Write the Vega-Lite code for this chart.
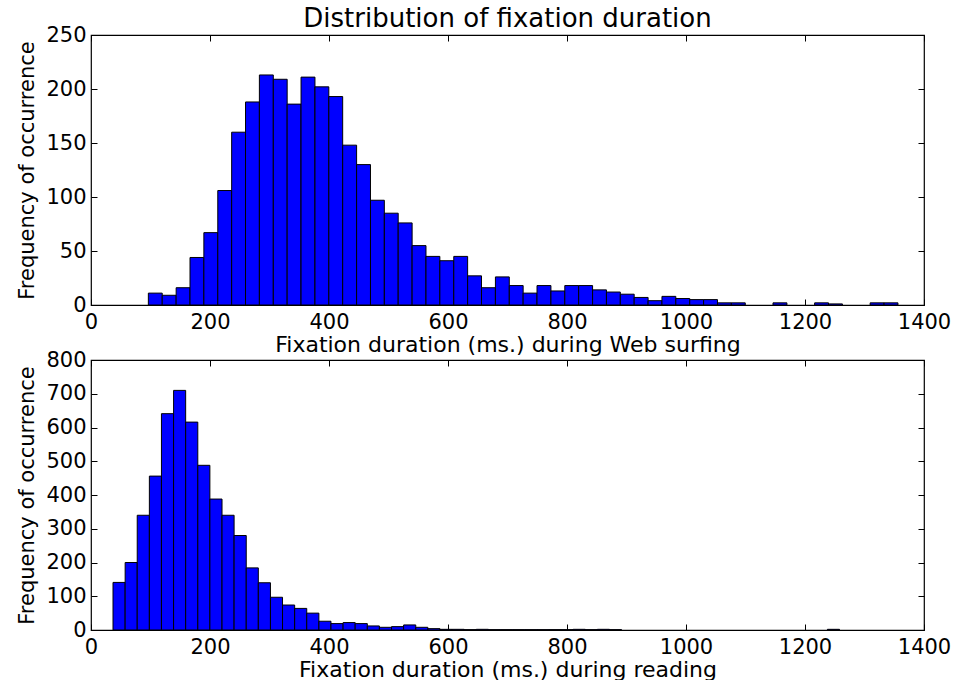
{
  "$schema": "https://vega.github.io/schema/vega-lite/v6.json",
  "background": "white",
  "padding": {"left": 16, "top": 5, "right": 0, "bottom": 0},
  "bounds": "flush",
  "spacing": 55,
  "config": {
    "view": {"stroke": "black", "strokeWidth": 1.2},
    "axis": {
      "labelFont": "DejaVu Sans", "labelFontSize": 21, "labelColor": "black", "labelPadding": 11,
      "titleFont": "DejaVu Sans", "titleFontSize": 21, "titleFontWeight": "normal", "titleColor": "black",
      "domain": false, "grid": false, "tickColor": "black", "tickSize": -6, "tickWidth": 1,
      "labelFlush": false, "labelOverlap": false, "format": "d"
    },
    "axisLeft": {"titlePadding": 8},
    "axisBottom": {"titlePadding": 2, "labelPadding": 12, "titleFontSize": 22}
  },
  "datasets": {
    "web": [
      {"start": 96.4, "end": 119.7, "count": 11},
      {"start": 119.7, "end": 143.1, "count": 9},
      {"start": 143.1, "end": 166.4, "count": 16},
      {"start": 166.4, "end": 189.7, "count": 44},
      {"start": 189.7, "end": 213.1, "count": 67},
      {"start": 213.1, "end": 236.4, "count": 106},
      {"start": 236.4, "end": 259.7, "count": 160},
      {"start": 259.7, "end": 283.0, "count": 188},
      {"start": 283.0, "end": 306.4, "count": 213},
      {"start": 306.4, "end": 329.7, "count": 209},
      {"start": 329.7, "end": 353.0, "count": 186},
      {"start": 353.0, "end": 376.4, "count": 211},
      {"start": 376.4, "end": 399.7, "count": 202},
      {"start": 399.7, "end": 423.0, "count": 193},
      {"start": 423.0, "end": 446.4, "count": 148},
      {"start": 446.4, "end": 469.7, "count": 130},
      {"start": 469.7, "end": 493.0, "count": 97},
      {"start": 493.0, "end": 516.3, "count": 85},
      {"start": 516.3, "end": 539.7, "count": 76},
      {"start": 539.7, "end": 563.0, "count": 55},
      {"start": 563.0, "end": 586.3, "count": 45},
      {"start": 586.3, "end": 609.7, "count": 41},
      {"start": 609.7, "end": 633.0, "count": 45},
      {"start": 633.0, "end": 656.3, "count": 27},
      {"start": 656.3, "end": 679.7, "count": 16},
      {"start": 679.7, "end": 703.0, "count": 26},
      {"start": 703.0, "end": 726.3, "count": 18},
      {"start": 726.3, "end": 749.6, "count": 11},
      {"start": 749.6, "end": 773.0, "count": 18},
      {"start": 773.0, "end": 796.3, "count": 13},
      {"start": 796.3, "end": 819.6, "count": 18},
      {"start": 819.6, "end": 843.0, "count": 18},
      {"start": 843.0, "end": 866.3, "count": 14},
      {"start": 866.3, "end": 889.6, "count": 12},
      {"start": 889.6, "end": 912.9, "count": 10},
      {"start": 912.9, "end": 936.3, "count": 7},
      {"start": 936.3, "end": 959.6, "count": 4},
      {"start": 959.6, "end": 982.9, "count": 8},
      {"start": 982.9, "end": 1006.3, "count": 6},
      {"start": 1006.3, "end": 1029.6, "count": 5},
      {"start": 1029.6, "end": 1052.9, "count": 5},
      {"start": 1052.9, "end": 1076.2, "count": 2},
      {"start": 1076.2, "end": 1099.6, "count": 2},
      {"start": 1146.2, "end": 1169.6, "count": 2},
      {"start": 1216.2, "end": 1239.5, "count": 2},
      {"start": 1239.5, "end": 1262.9, "count": 1},
      {"start": 1309.5, "end": 1332.9, "count": 2},
      {"start": 1332.9, "end": 1356.2, "count": 2}
    ],
    "reading": [
      {"start": 37.0, "end": 57.4, "count": 141},
      {"start": 57.4, "end": 77.7, "count": 200},
      {"start": 77.7, "end": 98.1, "count": 340},
      {"start": 98.1, "end": 118.4, "count": 456},
      {"start": 118.4, "end": 138.8, "count": 641},
      {"start": 138.8, "end": 159.1, "count": 710},
      {"start": 159.1, "end": 179.5, "count": 616},
      {"start": 179.5, "end": 199.8, "count": 488},
      {"start": 199.8, "end": 220.2, "count": 388},
      {"start": 220.2, "end": 240.5, "count": 340},
      {"start": 240.5, "end": 260.9, "count": 280},
      {"start": 260.9, "end": 281.2, "count": 184},
      {"start": 281.2, "end": 301.6, "count": 140},
      {"start": 301.6, "end": 321.9, "count": 97},
      {"start": 321.9, "end": 342.3, "count": 74},
      {"start": 342.3, "end": 362.6, "count": 64},
      {"start": 362.6, "end": 383.0, "count": 50},
      {"start": 383.0, "end": 403.3, "count": 26},
      {"start": 403.3, "end": 423.7, "count": 19},
      {"start": 423.7, "end": 444.0, "count": 22},
      {"start": 444.0, "end": 464.4, "count": 19},
      {"start": 464.4, "end": 484.7, "count": 12},
      {"start": 484.7, "end": 505.1, "count": 8},
      {"start": 505.1, "end": 525.4, "count": 10},
      {"start": 525.4, "end": 545.8, "count": 15},
      {"start": 545.8, "end": 566.1, "count": 8},
      {"start": 566.1, "end": 586.5, "count": 4},
      {"start": 586.5, "end": 606.8, "count": 2},
      {"start": 606.8, "end": 627.2, "count": 2},
      {"start": 627.2, "end": 647.5, "count": 1},
      {"start": 647.5, "end": 667.9, "count": 2},
      {"start": 667.9, "end": 688.2, "count": 1},
      {"start": 688.2, "end": 708.6, "count": 1},
      {"start": 708.6, "end": 728.9, "count": 1},
      {"start": 728.9, "end": 749.3, "count": 1},
      {"start": 749.3, "end": 769.6, "count": 1},
      {"start": 769.6, "end": 790.0, "count": 1},
      {"start": 790.0, "end": 810.3, "count": 1},
      {"start": 810.3, "end": 830.7, "count": 2},
      {"start": 830.7, "end": 851.0, "count": 1},
      {"start": 851.0, "end": 871.4, "count": 2},
      {"start": 871.4, "end": 891.7, "count": 1},
      {"start": 1237.7, "end": 1258.0, "count": 2}
    ]
  },
  "vconcat": [
    {
      "width": 833, "height": 270,
      "title": {"text": "Distribution of fixation duration", "font": "DejaVu Sans", "fontSize": 26, "fontWeight": "normal", "color": "black", "anchor": "middle", "offset": -8},
      "data": {"name": "web"},
      "layer": [
        {
          "mark": {"type": "bar", "fill": "#0000ff", "stroke": "black", "strokeWidth": 1},
          "encoding": {
            "x": {"field": "start", "type": "quantitative", "scale": {"domain": [0, 1400], "nice": false},
                  "axis": {"orient": "bottom", "values": [0, 200, 400, 600, 800, 1000, 1200, 1400], "title": "Fixation duration (ms.) during Web surfing"}},
            "x2": {"field": "end"},
            "y": {"field": "count", "type": "quantitative", "scale": {"domain": [0, 250], "nice": false},
                  "axis": {"orient": "left", "values": [0, 50, 100, 150, 200, 250], "title": "Frequency of occurrence"}},
            "y2": {"datum": 0}
          }
        },
        {
          "mark": {"type": "bar", "opacity": 0},
          "encoding": {
            "x": {"field": "start", "type": "quantitative", "axis": {"orient": "top", "values": [0, 200, 400, 600, 800, 1000, 1200, 1400], "labels": false, "title": null}},
            "x2": {"field": "end"},
            "y": {"field": "count", "type": "quantitative", "axis": {"orient": "right", "values": [0, 50, 100, 150, 200, 250], "labels": false, "title": null}},
            "y2": {"datum": 0}
          }
        }
      ],
      "resolve": {"axis": {"x": "independent", "y": "independent"}}
    },
    {
      "width": 833, "height": 270,
      "data": {"name": "reading"},
      "layer": [
        {
          "mark": {"type": "bar", "fill": "#0000ff", "stroke": "black", "strokeWidth": 1},
          "encoding": {
            "x": {"field": "start", "type": "quantitative", "scale": {"domain": [0, 1400], "nice": false},
                  "axis": {"orient": "bottom", "values": [0, 200, 400, 600, 800, 1000, 1200, 1400], "title": "Fixation duration (ms.) during reading"}},
            "x2": {"field": "end"},
            "y": {"field": "count", "type": "quantitative", "scale": {"domain": [0, 800], "nice": false},
                  "axis": {"orient": "left", "values": [0, 100, 200, 300, 400, 500, 600, 700, 800], "title": "Frequency of occurrence"}},
            "y2": {"datum": 0}
          }
        },
        {
          "mark": {"type": "bar", "opacity": 0},
          "encoding": {
            "x": {"field": "start", "type": "quantitative", "axis": {"orient": "top", "values": [0, 200, 400, 600, 800, 1000, 1200, 1400], "labels": false, "title": null}},
            "x2": {"field": "end"},
            "y": {"field": "count", "type": "quantitative", "axis": {"orient": "right", "values": [0, 100, 200, 300, 400, 500, 600, 700, 800], "labels": false, "title": null}},
            "y2": {"datum": 0}
          }
        }
      ],
      "resolve": {"axis": {"x": "independent", "y": "independent"}}
    }
  ]
}
